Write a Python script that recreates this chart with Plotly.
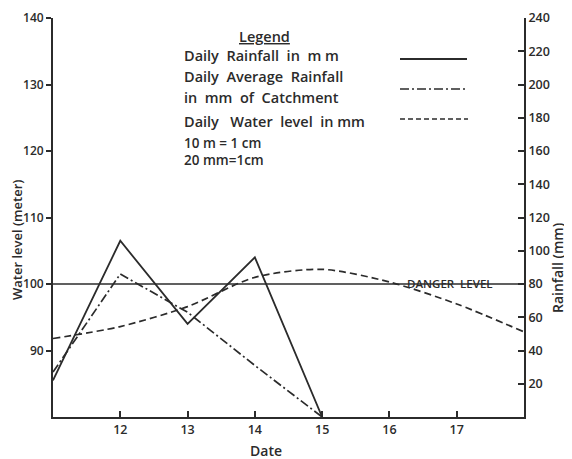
import plotly.graph_objects as go

# ---- data ----
dates = [11, 12, 13, 14, 15, 16, 17, 18]
rain_dates = [11, 12, 13, 14, 15]
daily_rainfall_mm = [22, 106, 56, 96, 0]
avg_rainfall_dates = [11, 12, 13, 14, 15]
avg_rainfall_mm = [27, 86, 63, 31, 0]
water_level_m = [91.8, 93.6, 96.6, 101.0, 102.2, 100.3, 97.0, 92.8]
danger_dates = [11, 18]
danger_level_m = [100, 100]
x_ticks = [12, 13, 14, 15, 16, 17]
left_ticks = [90, 100, 110, 120, 130, 140]
right_ticks = [20, 40, 60, 80, 100, 120, 140, 160, 180, 200, 220, 240]

INK = "#2b2b2b"
FONT = "Open Sans"
W = 600
OFF = 8  # page body margin offset

fig = go.Figure()

fig.add_trace(go.Scatter(x=danger_dates, y=danger_level_m, mode="lines",
                         line=dict(color=INK, width=1.6), yaxis="y", showlegend=False))
fig.add_trace(go.Scatter(x=dates, y=water_level_m, mode="lines",
                         line=dict(color=INK, width=1.7, dash="7px,4px", shape="spline", smoothing=0.8),
                         yaxis="y", showlegend=False))
fig.add_trace(go.Scatter(x=rain_dates, y=daily_rainfall_mm, mode="lines",
                         line=dict(color=INK, width=1.8), yaxis="y2", showlegend=False))
fig.add_trace(go.Scatter(x=avg_rainfall_dates, y=avg_rainfall_mm, mode="lines",
                         line=dict(color=INK, width=1.7, dash="9px,3px,2px,3px"),
                         yaxis="y2", showlegend=False))

axis_font = dict(family=FONT, size=12.5, color=INK, weight=W)

fig.update_layout(
    width=572 - OFF, height=459 - OFF,
    margin=dict(l=53 - OFF, r=48, t=18 - OFF, b=42, autoexpand=False),
    paper_bgcolor="white", plot_bgcolor="white",
    font=dict(family=FONT, color=INK),
    xaxis=dict(range=[11, 18], tickvals=x_ticks, ticks="inside", ticklen=6,
               tickwidth=1.5, tickcolor=INK, showline=True, linecolor=INK, linewidth=1.8,
               showgrid=False, zeroline=False, tickfont=axis_font),
    yaxis=dict(range=[80, 140], tickvals=left_ticks, ticks="outside", ticklen=5,
               tickwidth=1.5, tickcolor=INK, showline=True, linecolor=INK, linewidth=1.8,
               showgrid=False, zeroline=False, tickfont=dict(family=FONT, size=12, color=INK, weight=W)),
    yaxis2=dict(range=[0, 240], tickvals=right_ticks, overlaying="y", side="right",
                ticks="inside", ticklen=6, tickwidth=1.5, tickcolor=INK,
                showline=True, linecolor=INK, linewidth=1.8,
                showgrid=False, zeroline=False, tickfont=axis_font),
)


def px_x(p):
    return (p - 53) / 471.0


def px_y(p):
    return (417 - p) / 399.0


txt = dict(family=FONT, size=14.5, color=INK, weight=W)
small = dict(family=FONT, size=13.5, color=INK, weight=W)
ann = [
    dict(text="<u>Legend</u>", x=px_x(264), y=px_y(36), xanchor="center", yanchor="middle"),
    dict(text="Daily  Rainfall  in  m m", x=px_x(182), y=px_y(55), xanchor="left", yanchor="middle"),
    dict(text="Daily  Average  Rainfall", x=px_x(182), y=px_y(76), xanchor="left", yanchor="middle"),
    dict(text="in  mm  of  Catchment", x=px_x(182), y=px_y(97), xanchor="left", yanchor="middle"),
    dict(text="Daily   Water  level  in mm", x=px_x(182), y=px_y(121), xanchor="left", yanchor="middle"),
    dict(text="10 m = 1 cm", x=px_x(182), y=px_y(143), xanchor="left", yanchor="middle", font=small),
    dict(text="20 mm=1cm", x=px_x(182), y=px_y(160), xanchor="left", yanchor="middle", font=small),
    dict(text="DANGER  LEVEL", x=px_x(450), y=px_y(283), xanchor="center", yanchor="middle",
         font=dict(family=FONT, size=11.5, color=INK, weight=W)),
    dict(text="Water level (meter)", x=px_x(17), y=px_y(240), xanchor="center", yanchor="middle",
         textangle=-90, font=dict(family=FONT, size=13, color=INK, weight=W)),
    dict(text="Rainfall (mm)", x=px_x(557), y=px_y(268), xanchor="center", yanchor="middle",
         textangle=-90, font=dict(family=FONT, size=14, color=INK, weight=W)),
    dict(text="Date", x=px_x(266), y=px_y(439), xanchor="center", yanchor="top",
         font=dict(family=FONT, size=14, color=INK, weight=W)),
]
for a in ann:
    a.setdefault("font", txt)
    a.update(xref="paper", yref="paper", showarrow=False)
fig.update_layout(annotations=ann)

shapes = [
    dict(type="line", x0=px_x(400), x1=px_x(467), y0=px_y(59), y1=px_y(59),
         line=dict(color=INK, width=1.8)),
    dict(type="line", x0=px_x(400), x1=px_x(467), y0=px_y(89), y1=px_y(89),
         line=dict(color=INK, width=1.7, dash="9px,3px,2px,3px")),
    dict(type="line", x0=px_x(400), x1=px_x(468), y0=px_y(119), y1=px_y(119),
         line=dict(color=INK, width=1.7, dash="5px,3px")),
]
for s in shapes:
    s.update(xref="paper", yref="paper")
fig.update_layout(shapes=shapes)

fig.write_html("out.html")
